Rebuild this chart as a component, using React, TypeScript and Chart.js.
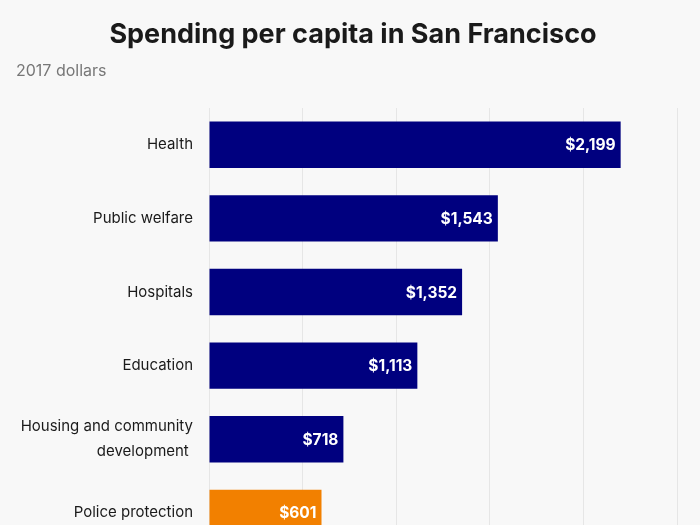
import React, { useEffect, useRef } from "react";
import { Chart, registerables } from "chart.js";

Chart.register(...registerables);

const categories: (string | string[])[] = [
  "Health",
  "Public welfare",
  "Hospitals",
  "Education",
  ["Housing and community", "development "],
  "Police protection",
];
const values: number[] = [2199, 1543, 1352, 1113, 718, 601];
const barColors: string[] = ["#00007f", "#00007f", "#00007f", "#00007f", "#00007f", "#f28000"];
const xTicks: number[] = [0, 500, 1000, 1500, 2000, 2500];
const titleText = "Spending per capita in San Francisco";
const subtitleText = "2017 dollars";

const FONT = "Inter, 'Noto Sans', sans-serif";

const valueLabels = {
  id: "valueLabels",
  afterDatasetsDraw(chart: any) {
    const ctx = chart.ctx;
    const meta = chart.getDatasetMeta(0);
    ctx.save();
    ctx.fillStyle = "#ffffff";
    ctx.font = `700 15.5px ${FONT}`;
    ctx.textAlign = "right";
    ctx.textBaseline = "middle";
    meta.data.forEach((bar: any, i: number) => {
      const v = chart.data.datasets[0].data[i] as number;
      ctx.fillText("$" + v.toLocaleString("en-US"), bar.x - 5, bar.y + 1);
    });
    ctx.restore();
  },
};

const headings = {
  id: "headings",
  afterDraw(chart: any) {
    const ctx = chart.ctx;
    ctx.save();
    ctx.textBaseline = "middle";
    ctx.fillStyle = "#1a1a1a";
    ctx.font = `700 27px ${FONT}`;
    ctx.textAlign = "center";
    ctx.fillText(titleText, 353, 35);
    ctx.fillStyle = "#777777";
    ctx.font = `400 16px ${FONT}`;
    ctx.textAlign = "left";
    ctx.fillText(subtitleText, 16, 71);
    ctx.restore();
  },
};

export default function App() {
  const ref = useRef<HTMLCanvasElement>(null);
  useEffect(() => {
    document.body.style.margin = "0";
    document.body.style.background = "#f8f8f8";
    document.body.style.overflow = "hidden";
    const chart = new Chart(ref.current!, {
      type: "bar",
      data: {
        labels: categories,
        datasets: [
          {
            data: values,
            backgroundColor: barColors,
            borderWidth: 0,
            categoryPercentage: 1,
            barPercentage: 0.63,
          },
        ],
      },
      options: {
        indexAxis: "y",
        responsive: false,
        animation: false,
        layout: { padding: { left: 0, right: 23, top: 108, bottom: 0 } },
        plugins: {
          legend: { display: false },
          tooltip: { enabled: false },
          title: { display: false },
          subtitle: { display: false },
        },
        scales: {
          x: {
            min: xTicks[0],
            max: xTicks[xTicks.length - 1],
            afterBuildTicks(scale: any) {
              scale.ticks = xTicks.map((v) => ({ value: v }));
            },
            ticks: { display: false },
            grid: { color: "#e6e6e6", drawTicks: false, lineWidth: 1 },
            border: { display: false },
          },
          y: {
            afterFit(scale: any) {
              scale.width = 209;
            },
            ticks: {
              color: "#1a1a1a",
              padding: 16,
              font: { family: FONT, size: 15, lineHeight: 1.65 },
            },
            grid: { display: false, drawTicks: false },
            border: { display: false },
          },
        },
      },
      plugins: [valueLabels, headings],
    });
    return () => chart.destroy();
  }, []);
  return (
    <div style={{ width: 700, height: 578, background: "#f8f8f8" }}>
      <canvas ref={ref} width={700} height={578} />
    </div>
  );
}
